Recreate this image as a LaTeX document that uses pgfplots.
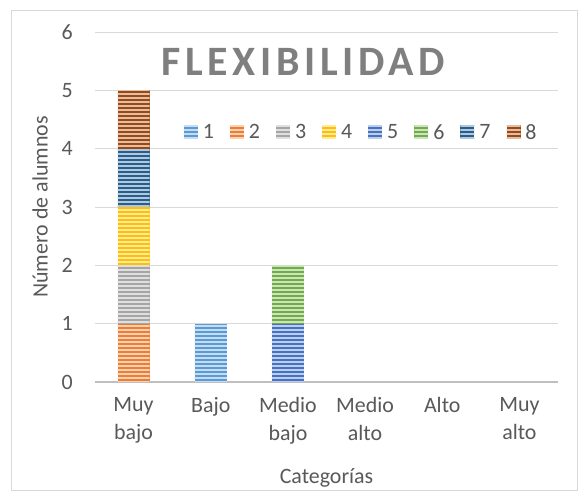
\documentclass[border=0pt]{standalone}
\usepackage{fontspec}
\setmainfont{Carlito}
\usepackage{pgfplots}
\pgfplotsset{compat=1.18}
\usetikzlibrary{patterns.meta}
\definecolor{c1}{HTML}{5B9BD5}
\definecolor{c2}{HTML}{ED7D31}
\definecolor{c3}{HTML}{A5A5A5}
\definecolor{c4}{HTML}{FFC000}
\definecolor{c5}{HTML}{4472C4}
\definecolor{c6}{HTML}{70AD47}
\definecolor{c7}{HTML}{255E91}
\definecolor{c8}{HTML}{9E480E}
\definecolor{txt}{HTML}{595959}
\definecolor{ttl}{HTML}{7F7F7F}
\definecolor{grd}{HTML}{D9D9D9}
\definecolor{axl}{HTML}{BFBFBF}
\tikzset{stripe/.style={fill=#1, draw=none,
  postaction={pattern={Lines[angle=0,distance=4bp,line width=1.6bp]}, pattern color=#1!35!white}}}
\begin{document}
\begin{tikzpicture}
\useasboundingbox (0,0) rectangle (588bp,502bp);
\draw[grd, line width=1bp, fill=white] (11bp,11bp) rectangle (577bp,491bp);
\begin{axis}[
  at={(95bp,120bp)}, anchor=south west,
  scale only axis, width=463bp, height=350bp,
  ybar stacked, bar width=32bp,
  xmin=-0.5, xmax=5.5, ymin=0, ymax=6,
  xtick={0,1,2,3,4,5},
  xticklabels={{Muy\\bajo},Bajo,{Medio\\bajo},{Medio\\alto},Alto,{Muy\\alto}},
  ytick={0,1,2,3,4,5,6},
  /pgf/number format/assume math mode=true,
  tick style={draw=none},
  axis x line*=bottom, axis y line*=left,
  x axis line style={axl, line width=2bp, -},
  y axis line style={draw=none},
  ymajorgrids, grid style={grd, line width=1bp},
  tick label style={font=\fontsize{22}{28}\selectfont, text=txt},
  xticklabel style={align=center, anchor=north, inner sep=0pt, yshift=-15bp},
  yticklabel style={anchor=east, inner sep=0pt, xshift=-22bp},
  xlabel={Categorías},
  ylabel={Número de alumnos},
  every axis x label/.style={at={(axis description cs:0.5,0)}, anchor=center, yshift=-96bp, font=\fontsize{22}{28}\selectfont, text=txt},
  every axis y label/.style={at={(axis description cs:0,0.5)}, anchor=center, rotate=90, yshift=55bp, font=\fontsize{22}{28}\selectfont, text=txt},
  legend columns=8,
  legend style={draw=none, fill=none, at={(axis description cs:0.575,0.713)}, anchor=center,
    font=\fontsize{22}{28}\selectfont, text=txt,
    /tikz/every odd column/.append style={column sep=3bp},
    /tikz/every even column/.append style={column sep=14bp},
    inner sep=0pt},
  legend image code/.code={\fill[#1] (0bp,-6bp) rectangle (14bp,7bp);},
]
\addplot+[stripe=c1] coordinates {(0,0) (1,1) (2,0) (3,0) (4,0) (5,0)};
\addplot+[stripe=c2] coordinates {(0,1) (1,0) (2,0) (3,0) (4,0) (5,0)};
\addplot+[stripe=c3] coordinates {(0,1) (1,0) (2,0) (3,0) (4,0) (5,0)};
\addplot+[stripe=c4] coordinates {(0,1) (1,0) (2,0) (3,0) (4,0) (5,0)};
\addplot+[stripe=c5] coordinates {(0,0) (1,0) (2,1) (3,0) (4,0) (5,0)};
\addplot+[stripe=c6] coordinates {(0,0) (1,0) (2,1) (3,0) (4,0) (5,0)};
\addplot+[stripe=c7] coordinates {(0,1) (1,0) (2,0) (3,0) (4,0) (5,0)};
\addplot+[stripe=c8] coordinates {(0,1) (1,0) (2,0) (3,0) (4,0) (5,0)};
\legend{1,2,3,4,5,6,7,8}
\end{axis}
\node[text=ttl, font=\fontsize{42}{48}\bfseries\addfontfeature{LetterSpace=11}] at (303bp,440bp) {FLEXIBILIDAD};
\end{tikzpicture}
\end{document}
